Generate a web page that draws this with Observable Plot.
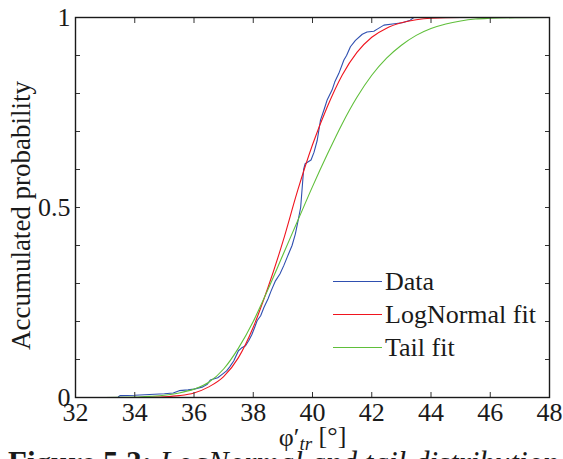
<!DOCTYPE html>
<html>
<head>
<meta charset="utf-8">
<script src="https://cdn.jsdelivr.net/npm/d3@7"></script>
<script src="https://cdn.jsdelivr.net/npm/@observablehq/plot@0.6"></script>
<style>
  html, body { margin: 0; padding: 0; background: #fff; overflow: hidden; }
  #wrap { position: relative; width: 563px; height: 459px; font-family: "Liberation Serif", serif; color: #1a1a1a; }
  #chart { height: 440px; overflow: visible; }
  #legend { position: absolute; left: 333px; top: 265px; font-size: 26px; line-height: 33px; }
  .row { display: flex; align-items: center; height: 33px; }
  .sw { width: 49px; height: 0; border-top: 1.2px solid; margin-right: 3px; }
  #caption { position: absolute; left: 8px; top: 447px; font-size: 31px; white-space: nowrap; line-height: 31px; }
</style>
</head>
<body>
<div id="wrap">
  <div id="chart"></div>
  <div id="legend"></div>
  <div id="caption"></div>
</div>
<script>
// ---- data ----
const xTicks = [32, 34, 36, 38, 40, 42, 44, 46, 48];
const yTicks = [0, 0.1, 0.2, 0.3, 0.4, 0.5, 0.6, 0.7, 0.8, 0.9, 1];
const yTickLabels = [0, 0.5, 1];

const seriesNames = ["Data", "LogNormal fit", "Tail fit"];
const seriesColors = ["#2f4fb0", "#f0141e", "#5fbf3a"];

// Empirical CDF (Data)
const dataX = [33.45, 33.5, 34.0, 34.5, 35.0, 35.3, 35.5, 35.8, 36.0, 36.3, 36.45, 36.55, 36.8, 36.95, 37.1, 37.2, 37.34, 37.5, 37.6, 37.74, 37.85, 37.95, 38.05, 38.13, 38.25, 38.36, 38.5, 38.6, 38.75, 38.9, 39.03, 39.15, 39.31, 39.42, 39.5, 39.6, 39.65, 39.7, 39.75, 39.95, 40.05, 40.16, 40.27, 40.4, 40.49, 40.66, 40.75, 40.89, 41.06, 41.15, 41.28, 41.45, 41.68, 41.84, 42.07, 42.2, 42.41, 42.7, 43.03, 43.3, 43.42];
const dataP = [0.002, 0.005, 0.006, 0.008, 0.010, 0.012, 0.018, 0.020, 0.022, 0.028, 0.035, 0.046, 0.052, 0.061, 0.070, 0.080, 0.096, 0.123, 0.130, 0.136, 0.150, 0.165, 0.185, 0.202, 0.215, 0.237, 0.260, 0.280, 0.307, 0.325, 0.347, 0.370, 0.400, 0.430, 0.460, 0.500, 0.550, 0.600, 0.615, 0.625, 0.645, 0.677, 0.730, 0.760, 0.782, 0.809, 0.830, 0.853, 0.888, 0.900, 0.923, 0.940, 0.956, 0.962, 0.964, 0.970, 0.980, 0.983, 0.986, 0.993, 1.000];

// LogNormal fit
const logNormX = [32, 33, 34, 34.5, 35, 35.5, 36, 36.5, 37, 37.5, 38, 38.5, 39, 39.5, 40, 40.5, 41, 41.5, 42, 42.5, 43, 43.5, 44, 45, 48];
const logNormP = [0, 0, 0, 0.001, 0.002, 0.005, 0.012, 0.028, 0.055, 0.105, 0.185, 0.29, 0.41, 0.545, 0.665, 0.765, 0.848, 0.908, 0.948, 0.972, 0.986, 0.994, 0.998, 1.0, 1.0];

// Tail fit
const tailX = [32, 33, 34, 34.5, 35, 35.5, 36, 36.5, 37, 37.5, 38, 38.5, 39, 39.5, 40, 40.5, 41, 41.5, 42, 42.5, 43, 43.5, 44, 44.5, 45, 45.5, 46, 47, 48];
const tailP = [0, 0, 0.001, 0.003, 0.006, 0.012, 0.022, 0.040, 0.075, 0.130, 0.200, 0.285, 0.375, 0.465, 0.555, 0.640, 0.720, 0.790, 0.848, 0.893, 0.927, 0.953, 0.971, 0.983, 0.991, 0.996, 0.998, 0.9995, 1.0];

const toRows = (xs, ps) => xs.map((x, i) => ({x, p: ps[i]}));
const dataRows = toRows(dataX, dataP);
const logNormRows = toRows(logNormX, logNormP);
const tailRows = toRows(tailX, tailP);

const chart = Plot.plot({
  width: 563,
  height: 440,
  marginLeft: 75,
  marginRight: 14,
  marginTop: 17,
  marginBottom: 43,
  x: {domain: [32, 48]},
  y: {domain: [0, 1]},
  style: {fontFamily: "'Liberation Serif', serif", fontSize: "26px", color: "#1a1a1a", background: "transparent", overflow: "visible"},
  marks: [
    Plot.line(dataRows, {x: "x", y: "p", stroke: seriesColors[0], strokeWidth: 1.1}),
    Plot.line(logNormRows, {x: "x", y: "p", stroke: seriesColors[1], strokeWidth: 1.1, curve: "monotone-x"}),
    Plot.line(tailRows, {x: "x", y: "p", stroke: seriesColors[2], strokeWidth: 1.1, curve: "monotone-x"}),
    // inward tick marks on all four sides
    Plot.axisX({anchor: "bottom", ticks: xTicks, tickSize: -5, tickFormat: () => "", label: null, stroke: "#333"}),
    Plot.axisX({anchor: "top", ticks: xTicks, tickSize: -5, tickFormat: () => "", label: null, stroke: "#333"}),
    Plot.axisY({anchor: "left", ticks: yTicks, tickSize: -5, tickFormat: () => "", label: null, stroke: "#333"}),
    Plot.axisY({anchor: "right", ticks: yTicks, tickSize: -5, tickFormat: () => "", label: null, stroke: "#333"}),
    // tick labels and axis titles
    Plot.axisX({anchor: "bottom", ticks: xTicks, tickSize: 0, tickPadding: 5, tickFormat: d3.format("d"),
      label: "φ′tr [°]", labelAnchor: "center", labelOffset: 48, labelArrow: "none"}),
    Plot.axisY({anchor: "left", ticks: yTickLabels, tickSize: 0, tickPadding: 5, tickFormat: d => String(d),
      label: "Accumulated probability", labelAnchor: "center", labelOffset: 65, labelArrow: "none"}),
    Plot.frame({stroke: "#1a1a1a", strokeWidth: 1.4})
  ]
});
document.getElementById("chart").appendChild(chart);

// subscript for the x label; nudge the y label like the reference
d3.select(chart).selectAll("text").each(function() {
  if (this.textContent === "φ′tr [°]") {
    const t = d3.select(this);
    t.text(null);
    t.append("tspan").text("φ′");
    t.append("tspan").attr("font-style", "italic").attr("font-size", "19px").attr("dy", "0.25em").text("tr");
    t.append("tspan").attr("dy", "-0.25em").text(" [°]");
  } else if (this.textContent === "Accumulated probability") {
    d3.select(this).attr("dx", -8).attr("font-size", "27px");
  }
});

// legend inside the plot area
const legend = d3.select("#legend");
seriesNames.forEach((name, i) => {
  const row = legend.append("div").attr("class", "row");
  row.append("div").attr("class", "sw").style("border-top-color", seriesColors[i]);
  row.append("span").text(name);
});

// caption (cut at the bottom like the reference)
const cap = d3.select("#caption");
cap.append("b").text("Figure 5.3:");
cap.append("span").text(" ");
cap.append("i").text("LogNormal and tail distribution fits");
</script>
</body>
</html>
